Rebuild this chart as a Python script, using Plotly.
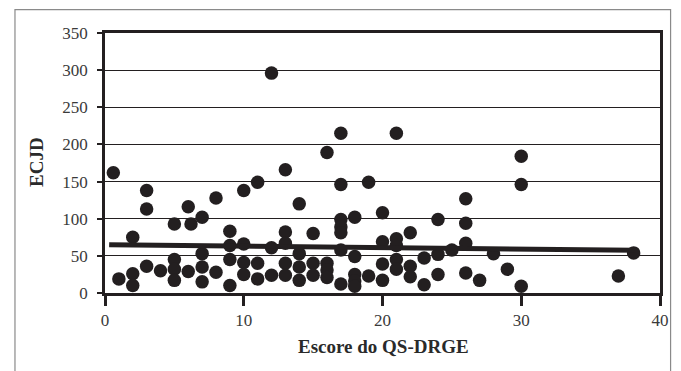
import plotly.graph_objects as go

# QS-DRGE score (x) and ECJD (y)
qs_drge = [0.6, 1, 2, 2, 2, 3, 3, 3, 4, 5, 5, 5, 5, 6, 6.2, 6, 7, 7, 7, 7,
           8, 8, 9, 9, 9, 9, 10, 10, 10, 10, 11, 11, 11, 12, 12, 12,
           13, 13, 13, 13, 13, 14, 14, 14, 14, 15, 15, 15, 16, 16, 16, 16,
           17, 17, 17, 17, 17, 17, 17, 18, 18, 18, 18, 18, 19, 19,
           20, 20, 20, 20, 21, 21, 21, 21, 21, 22, 22, 22, 23, 23,
           24, 24, 24, 25, 26, 26, 26, 26, 27, 28, 29, 30, 30, 30, 37, 38.1]
ecjd = [162, 19, 75, 26, 10, 138, 113, 36, 30, 93, 45, 32, 17, 116, 93, 29, 102, 53, 35, 15,
        128, 28, 83, 64, 45, 10, 138, 66, 41, 25, 149, 40, 19, 296, 61, 24,
        166, 82, 67, 40, 24, 120, 53, 35, 17, 80, 40, 24, 189, 40, 31, 21,
        215, 146, 99, 89, 81, 58, 12, 102, 49, 25, 16, 9, 149, 23,
        108, 69, 39, 17, 215, 73, 64, 45, 32, 81, 36, 22, 47, 11,
        99, 52, 25, 58, 127, 94, 67, 27, 17, 53, 32, 184, 146, 9, 23, 54]

# trend line
trend_x = [0.3, 38.2]
trend_y = [65, 57.5]

x_ticks = [0, 10, 20, 30, 40]
y_ticks = [0, 50, 100, 150, 200, 250, 300, 350]

INK = "#231f20"
FONT = "Liberation Serif"

fig = go.Figure()
fig.add_trace(go.Scatter(
    x=qs_drge, y=ecjd, mode="markers",
    marker=dict(size=13.5, color=INK, line=dict(width=0)),
    cliponaxis=False, showlegend=False,
))
fig.add_trace(go.Scatter(
    x=trend_x, y=trend_y, mode="lines",
    line=dict(color=INK, width=5), showlegend=False,
))

fig.update_layout(
    width=673, height=363,
    margin=dict(l=97, r=15, t=25.3, b=77.7),
    paper_bgcolor="white", plot_bgcolor="white",
    font=dict(family=FONT, size=17, color="#3a3a3a"),
    xaxis=dict(
        range=[0, 40], tickvals=x_ticks, showgrid=False, zeroline=False,
        showline=True, linecolor=INK, linewidth=2.7, mirror=True,
        ticks="outside", ticklen=10, tickwidth=2.5, tickcolor=INK,
    ),
    yaxis=dict(
        range=[0, 350], tickvals=y_ticks, showgrid=True, gridcolor=INK,
        gridwidth=1.2, zeroline=False,
        showline=True, linecolor=INK, linewidth=2.7, mirror=True,
        ticks="outside", ticklen=5, tickwidth=2.3, tickcolor=INK,
        ticklabelstandoff=6,
    ),
    annotations=[
        dict(text="<b>ECJD</b>", xref="paper", yref="paper", x=-0.1248, y=0.503,
             textangle=-90, showarrow=False, xanchor="center", yanchor="middle",
             font=dict(family=FONT, size=19, color="#2a2a2a")),
        dict(text="<b>Escore do QS-DRGE</b>", xref="paper", yref="paper", x=0.502, y=-0.205,
             showarrow=False, xanchor="center", yanchor="middle",
             font=dict(family=FONT, size=19, color="#2a2a2a")),
    ],
    shapes=[
        dict(type="rect", xref="paper", yref="paper",
             x0=(14 - 105) / 561, x1=(676.7 - 105) / 561,
             y0=(293.3 - 380) / 260, y1=(293.3 - 10) / 260,
             line=dict(color="#8a8a8a", width=1.2), layer="above"),
    ],
)

fig.write_html("out.html")
